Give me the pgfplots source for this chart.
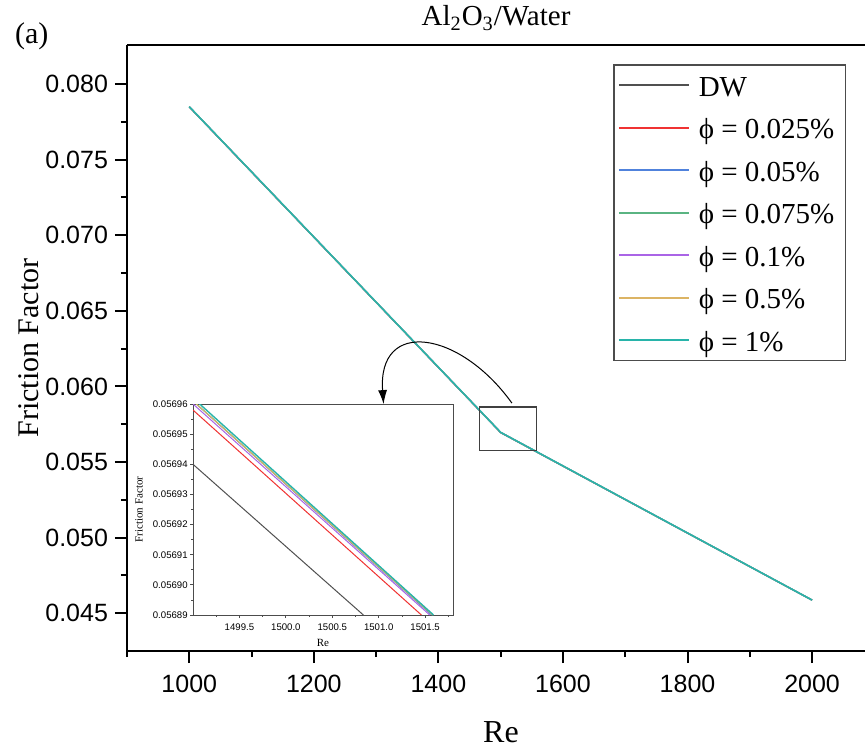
\documentclass[border=0pt]{standalone}
\usepackage{fontspec}
\setmainfont{Liberation Serif}
\newfontfamily\arial{Liberation Sans}
\usepackage{pgfplots}
\pgfplotsset{compat=1.18}
\usetikzlibrary{arrows.meta}

\definecolor{cDW}{RGB}{80,80,80}
\definecolor{cR}{RGB}{240,50,50}
\definecolor{cB}{RGB}{80,130,220}
\definecolor{cG}{RGB}{90,180,130}
\definecolor{cP}{RGB}{170,100,230}
\definecolor{cY}{RGB}{220,180,100}
\definecolor{cC}{RGB}{40,180,170}

\begin{document}
\begin{tikzpicture}
% main axis, 1px = 0.5pt
\begin{axis}[
  name=main,
  at={(0,0)}, anchor=south west,
  scale only axis, width=369pt, height=303pt,
  xmin=900, xmax=2085, ymin=0.0425, ymax=0.08258,
  axis x line*=bottom, axis y line*=left,
  axis line style={line width=1pt},
  tick align=outside,
  major tick length=6pt, minor tick length=3pt,
  every tick/.style={black, line width=1pt},
  xtick={1000,1200,...,2000},
  minor xtick={900,1100,...,1900},
  ytick={0.045,0.05,0.055,0.06,0.065,0.07,0.075,0.08},
  minor ytick={0.0475,0.0525,0.0575,0.0625,0.0675,0.0725,0.0775},
  scaled ticks=false,
  ticklabel style={font=\fontsize{12.5}{14}\arial},
  /pgf/number format/assume math mode=true,
  xticklabel style={/pgf/number format/1000 sep={}, yshift=-2.5pt},
  yticklabel style={/pgf/number format/.cd, fixed, fixed zerofill, precision=3},
  clip=false,
  legend style={at={(0.6585,0.9686)}, anchor=north west, draw=black!70,
    line width=0.8pt, fill=white, font=\fontsize{14.5}{16}\selectfont,
    inner xsep=2pt, inner ysep=3pt, row sep=7pt, column sep=4pt,
    nodes={inner sep=0.5pt, text height=12.25pt, text depth=1pt}},
  legend image code/.code={\draw[#1,line width=1pt] (0pt,0pt) -- (35pt,0pt);},
  legend cell align=left,
]
\addplot[cDW, line width=0.6pt] coordinates {(1000,0.07848) (1500,0.05694) (2000,0.04586)};
\addlegendentry{DW}
\addplot[cR, line width=0.6pt] coordinates {(1000,0.07849) (1500,0.05695) (2000,0.04587)};
\addlegendentry{ϕ = 0.025\%\hspace*{3pt}}
\addplot[cB, line width=0.6pt] coordinates {(1000,0.07850) (1500,0.05696) (2000,0.04587)};
\addlegendentry{ϕ = 0.05\%}
\addplot[cG, line width=0.6pt] coordinates {(1000,0.07850) (1500,0.05696) (2000,0.04587)};
\addlegendentry{ϕ = 0.075\%}
\addplot[cP, line width=0.6pt] coordinates {(1000,0.07850) (1500,0.05696) (2000,0.04587)};
\addlegendentry{ϕ = 0.1\%}
\addplot[cY, line width=0.6pt] coordinates {(1000,0.07850) (1500,0.05696) (2000,0.04587)};
\addlegendentry{ϕ = 0.5\%}
\addplot[cC, line width=0.8pt] coordinates {(1000,0.07850) (1500,0.05696) (2000,0.04587)};
\addlegendentry{ϕ = 1\%}
% zoom box and arrow
\draw[black!75, line width=0.7pt] (axis cs:1466,0.05578) rectangle (axis cs:1558,0.05863);
\draw[black, line width=0.5pt, -{Latex[length=7pt,width=4.5pt]}]
  (axis cs:1518,0.0589) .. controls (axis cs:1434,0.06372) and (axis cs:1302,0.06452) .. (axis cs:1312,0.05883);
\draw[line width=1pt] (rel axis cs:0,1) -- (rel axis cs:1,1);
\end{axis}

\node[anchor=base, font=\fontsize{14.5}{16}\selectfont] at (184.5pt,312.5pt) {Al\textsubscript{2}O\textsubscript{3}/Water};
\node[anchor=base west, font=\fontsize{15}{17}\selectfont] at (-59.5pt,304pt) {(a)};
\node[anchor=base, font=\fontsize{16}{18}\selectfont] at (187pt,-45.5pt) {Re};
\node[rotate=90, font=\fontsize{15}{17}\selectfont] at (-49pt,151.5pt) {Friction Factor};

% inset
\begin{axis}[
  at={(33pt,18pt)}, anchor=south west,
  scale only axis, width=130pt, height=105.5pt,
  xmin=1499.0, xmax=1501.8, ymin=0.05689, ymax=0.05696,
  axis background/.style={fill=white},
  axis line style={black!70, line width=0.5pt},
  xtick pos=bottom, ytick pos=left,
  tick align=outside,
  major tick length=1.5pt, minor tick length=0.8pt,
  every tick/.style={black!70, line width=0.4pt},
  xtick={1499.5,1500.0,1500.5,1501.0,1501.5},
  minor xtick={1499.25,1499.75,1500.25,1500.75,1501.25,1501.75},
  ytick={0.05689,0.05690,0.05691,0.05692,0.05693,0.05694,0.05695,0.05696},
  minor ytick={0.056895,0.056905,0.056915,0.056925,0.056935,0.056945,0.056955},
  scaled ticks=false,
  ticklabel style={font=\fontsize{4.8}{5}\arial, inner sep=1pt},
  /pgf/number format/assume math mode=true,
  xticklabel style={/pgf/number format/.cd, fixed, fixed zerofill, precision=1, 1000 sep={}, /tikz/yshift=-1.5pt},
  yticklabel style={/pgf/number format/.cd, fixed, fixed zerofill, precision=5},
]
\addplot[cDW, line width=0.5pt] coordinates {(1499.0,0.05694) (1500.835,0.05689)};
\addplot[cR, line width=0.5pt] coordinates {(1499.0,0.056958) (1501.46,0.05689)};
\addplot[cB, line width=0.5pt] coordinates {(1499.0,0.056961) (1501.57,0.05689)};
\addplot[cG, line width=0.5pt] coordinates {(1499.0,0.056961) (1501.58,0.05689)};
\addplot[cP, line width=0.5pt] coordinates {(1499.0,0.056960) (1501.55,0.05689)};
\addplot[cY, line width=0.5pt] coordinates {(1499.0,0.056961) (1501.58,0.05689)};
\addplot[cC, line width=0.7pt] coordinates {(1499.0,0.056962) (1501.59,0.05689)};
\end{axis}
\node[rotate=90, font=\fontsize{5.5}{6}\selectfont] at (6pt,70.75pt) {Friction Factor};
\node[anchor=base, font=\fontsize{5.5}{6}\selectfont] at (98pt,2.25pt) {Re};

\pgfresetboundingbox
\useasboundingbox (-63.5pt,-47.5pt) rectangle (369pt,325.5pt);
\end{tikzpicture}
\end{document}
